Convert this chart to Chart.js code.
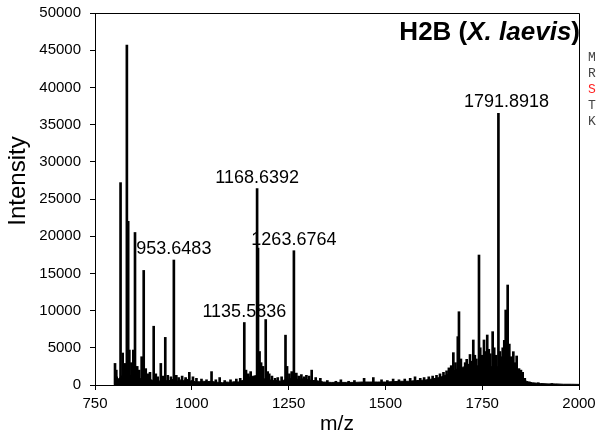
<!DOCTYPE html>
<html>
<head>
<meta charset="utf-8">
<script src="https://cdn.jsdelivr.net/npm/chart.js@4.4.1/dist/chart.umd.min.js"></script>
<style>
  html, body { margin: 0; padding: 0; background: #fff; }
  #wrap { position: relative; width: 599px; height: 440px; }
</style>
</head>
<body>
<div id="wrap"><canvas id="spectrum"></canvas></div>
<script>
// axis ticks
const xTicks = [750, 1000, 1250, 1500, 1750, 2000];
const yTicks = [0, 5000, 10000, 15000, 20000, 25000, 30000, 35000, 40000, 45000, 50000];

// annotated peaks: m/z and intensity
const labelMz  = [953.6483, 1135.5836, 1168.6392, 1263.6764, 1791.8918];
const labelInt = [16800, 8400, 26400, 18050, 36500];

// remaining peaks
const peakMz = [
  801.7, 805, 816, 821.5, 827.5, 832.3, 835.7, 838.7, 844, 849, 853.3, 859, 864, 870.5, 875.8,
  881, 886, 892, 901.6, 907, 912, 920, 926, 931.5, 938, 946, 960, 966, 975, 984, 993.6,
  1003, 1012, 1025, 1038, 1051, 1062, 1072, 1085, 1100, 1115, 1125, 1140, 1146, 1152,
  1171, 1175, 1179, 1184, 1190.9, 1196, 1200, 1207, 1215, 1222, 1232, 1242, 1246, 1252, 1258,
  1270, 1276, 1283, 1290, 1296, 1303, 1309.6, 1320, 1332, 1350, 1372, 1385, 1405, 1420, 1445,
  1468.8, 1490, 1505, 1520, 1535, 1550, 1564, 1576.5, 1590, 1600, 1612, 1622, 1632, 1641, 1650,
  1658, 1664, 1670, 1675.5, 1681, 1687, 1690, 1695, 1702, 1706, 1710, 1714, 1718.5, 1722, 1727,
  1731, 1735, 1741.7, 1745, 1750, 1754.6, 1758, 1763, 1767, 1771, 1777, 1781, 1786, 1796, 1800,
  1803, 1807, 1810.7, 1815.8, 1820, 1825, 1830.4, 1834, 1839, 1845, 1850, 1854.6, 1860, 1872,
  1895, 1930
];
const peakInt = [
  2900, 2000, 27200, 4300, 2900, 45700, 22000, 4700, 3000, 4700, 20500, 2500, 2000, 3800, 15400,
  2200, 1500, 1700, 7900, 1500, 1100, 2900, 1200, 6400, 1300, 1100, 1300, 1000, 1200, 1000, 1700,
  1100, 900, 800, 700, 1800, 700, 1000, 600, 700, 800, 900, 2000, 1500, 1800,
  18400, 4500, 3000, 2500, 8800, 1800, 1500, 1200, 900, 1000, 1100, 6700, 2500, 1500, 1800,
  1600, 1200, 1400, 1100, 1300, 1200, 2000, 1000, 900, 600, 500, 700, 500, 600, 900,
  1000, 700, 600, 800, 700, 800, 900, 1100, 900, 1000, 1100, 1200, 1300, 1500, 1700,
  1900, 2300, 2600, 4350, 3000, 6500, 9850, 3500, 2200, 3000, 3450, 2800, 4100, 3200, 6050,
  4000, 3500, 17470, 5000, 4000, 6050, 4500, 6720, 4800, 4200, 7170, 5000, 4000, 4500, 3800,
  5000, 6000, 10080, 13440, 5500, 3800, 4480, 3000, 3900, 2200, 2000, 1700, 900, 400,
  300, 200
];

// baseline under the peaks
const baseMz = [
  800, 803, 806, 810, 815, 820, 825, 830, 835, 840, 845, 850, 855, 860, 865, 870, 875, 880, 885, 890,
  895, 900, 905, 910, 915, 920, 925, 930, 935, 940, 945, 950, 955, 960, 965, 970, 975, 980, 985, 990,
  995, 1000, 1010, 1020, 1030, 1040, 1050, 1060, 1070, 1080, 1090, 1100, 1110, 1120, 1130, 1140, 1150,
  1160, 1170, 1180, 1190, 1200, 1210, 1220, 1230, 1240, 1250, 1260, 1270, 1280, 1290, 1300, 1310, 1320,
  1340, 1360, 1380, 1400, 1420, 1440, 1460, 1480, 1500, 1520, 1540, 1560, 1580, 1600, 1620, 1640, 1650,
  1660, 1670, 1680, 1690, 1700, 1710, 1720, 1730, 1740, 1750, 1760, 1770, 1780, 1790, 1800, 1810, 1820,
  1830, 1840, 1850, 1860, 1870, 1880, 1900, 1920, 1940, 1960, 1980, 2000
];
const baseInt = [
  0, 600, 1200, 800, 1000, 1300, 900, 1200, 1000, 1400, 900, 1100, 1300, 800, 1000, 700, 900, 600, 800, 500,
  700, 600, 800, 500, 600, 400, 700, 500, 600, 700, 500, 800, 400, 600, 500, 700, 500, 600, 900, 700,
  500, 600, 400, 450, 500, 450, 500, 400, 350, 300, 400, 350, 450, 400, 600, 700, 1100,
  1200, 1300, 900, 800, 700, 600, 600, 500, 700, 800, 900, 800, 700, 900, 700, 600, 600,
  400, 350, 350, 350, 350, 400, 400, 400, 400, 450, 500, 500, 600, 650, 800, 1000, 1200,
  1400, 1700, 2000, 2300, 2400, 2500, 2600, 2500, 2600, 2500, 2600, 2500, 2400, 2500, 2300, 2200, 2000,
  1700, 1300, 900, 600, 400, 300, 200, 150, 150, 100, 100, 80
];

// sequence residues printed beside the plot
const residues = ['M', 'R', 'S', 'T', 'K'];
const markedResidue = 'S';

const sans = '"Liberation Sans", Arial, Helvetica, sans-serif';

const peaks = peakMz.map((m, i) => ({ x: m, y: peakInt[i] }))
  .concat(labelMz.map((m, i) => ({ x: m, y: labelInt[i] })))
  .sort((a, b) => a.x - b.x);
const baseline = baseMz.map((m, i) => ({ x: m, y: baseInt[i] }));

// nudges for the peak annotations (px)
const labelShift = [0, 0, 0, 0, 8];

const decorations = {
  id: 'decorations',
  afterDraw(chart) {
    const { ctx, chartArea: a, scales: { x, y } } = chart;
    ctx.save();

    // box: top and right edges
    ctx.strokeStyle = '#000';
    ctx.lineWidth = 1;
    ctx.beginPath();
    const top = Math.round(a.top) + 0.5, right = Math.round(a.right) + 0.5;
    ctx.moveTo(a.left, top);
    ctx.lineTo(right, top);
    ctx.lineTo(right, a.bottom);
    ctx.stroke();

    // peak annotations
    ctx.fillStyle = '#000';
    ctx.font = '18px ' + sans;
    ctx.textAlign = 'center';
    ctx.textBaseline = 'alphabetic';
    labelMz.forEach((m, i) => {
      ctx.fillText(m.toFixed(4), x.getPixelForValue(m) + labelShift[i], y.getPixelForValue(labelInt[i]) - 6);
    });

    // title, right aligned inside the box
    const parts = [
      ['H2B (', 'bold 26px ' + sans],
      ['X. laevis', 'italic bold 26px ' + sans],
      [')', 'bold 26px ' + sans]
    ];
    let w = 0;
    parts.forEach(p => { ctx.font = p[1]; w += ctx.measureText(p[0]).width; });
    let tx = a.right + 1 - w;
    ctx.textAlign = 'left';
    parts.forEach(p => {
      ctx.font = p[1];
      ctx.fillText(p[0], tx, a.top + 27);
      tx += ctx.measureText(p[0]).width;
    });

    // y axis title
    ctx.save();
    ctx.translate(25, 181);
    ctx.rotate(-Math.PI / 2);
    ctx.font = '24px ' + sans;
    ctx.textAlign = 'center';
    ctx.fillText('Intensity', 0, 0);
    ctx.restore();

    // residue column
    ctx.font = '13px "Courier New", "Liberation Mono", monospace';
    ctx.textAlign = 'left';
    residues.forEach((r, i) => {
      ctx.fillStyle = r === markedResidue ? '#ff2020' : '#444';
      ctx.fillText(r, a.right + 9, 61 + i * 16);
    });
    ctx.restore();
  }
};

new Chart(document.getElementById('spectrum'), {
  type: 'line',
  data: {
    datasets: [
      {
        type: 'line',
        data: baseline,
        borderColor: '#000',
        backgroundColor: '#000',
        borderWidth: 1,
        pointRadius: 0,
        tension: 0,
        fill: 'origin'
      },
      {
        type: 'bar',
        data: peaks,
        backgroundColor: '#000',
        borderWidth: 0,
        barThickness: 2
      }
    ]
  },
  options: {
    responsive: true,
    maintainAspectRatio: false,
    animation: false,
    events: [],
    layout: { padding: { top: 13, right: 20, bottom: 0, left: 0 } },
    plugins: { legend: { display: false }, tooltip: { enabled: false } },
    scales: {
      x: {
        type: 'linear',
        min: 750,
        max: 2000,
        offset: false,
        afterBuildTicks: s => { s.ticks = xTicks.map(v => ({ value: v })); },
        // fixed box; end labels fit inside the layout padding
        afterFit: s => { s.height = 55; s.paddingLeft = 0; s.paddingRight = 0; },
        grid: { offset: false, drawOnChartArea: false, drawTicks: true, tickLength: 5, color: '#000' },
        border: { display: true, color: '#000', width: 1 },
        ticks: { color: '#000', padding: 5, maxRotation: 0, callback: v => String(v), font: { family: sans, size: 15 } },
        title: { display: true, text: 'm/z', color: '#000', font: { family: sans, size: 21 }, padding: { top: 0, bottom: 3 } }
      },
      y: {
        min: 0,
        max: 50000,
        afterBuildTicks: s => { s.ticks = yTicks.map(v => ({ value: v })); },
        afterFit: s => { s.width = 95; s.paddingTop = 0; s.paddingBottom = 0; },
        grid: { drawOnChartArea: false, drawTicks: true, tickLength: 5, color: '#000' },
        border: { display: true, color: '#000', width: 1 },
        ticks: { color: '#000', padding: 9, callback: v => String(v), font: { family: sans, size: 15 } }
      }
    }
  },
  plugins: [decorations]
});
</script>
</body>
</html>
